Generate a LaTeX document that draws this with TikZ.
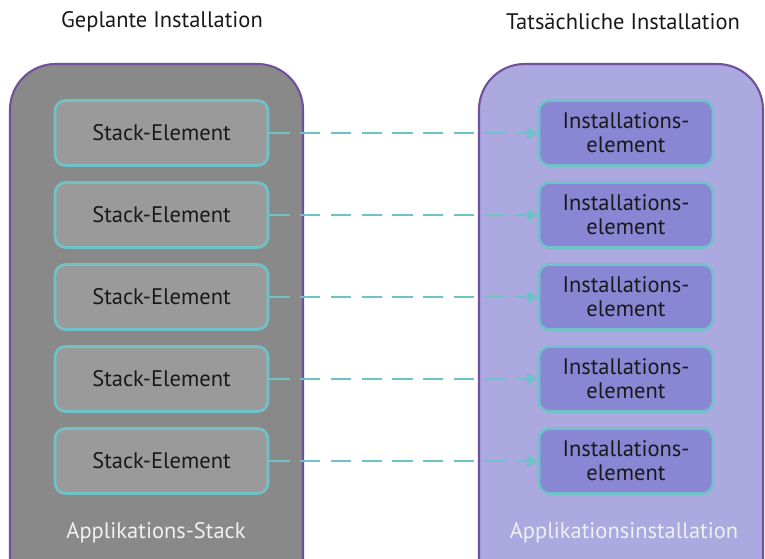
\documentclass[tikz,border=0pt]{standalone}
\usepackage{fontspec}
\setmainfont{PT Sans}
\usetikzlibrary{arrows.meta}
\definecolor{stackgray}{HTML}{898989}
\definecolor{elemgray}{HTML}{9A9A9A}
\definecolor{lavender}{HTML}{ABA9E0}
\definecolor{elemblue}{HTML}{8987D4}
\definecolor{tealline}{HTML}{6FC2C7}
\definecolor{violet}{HTML}{71519B}
\begin{document}
\begin{tikzpicture}[x=1cm,y=1cm,line cap=round,line join=round,
  font=\fontsize{12.8}{13.6}\selectfont,
  container/.style={draw=violet,line width=1.2pt,rounded corners=26pt},
  stackelem/.style={draw=tealline,fill=elemgray,line width=1.5pt,rounded corners=6pt,
    minimum width=4.26cm,minimum height=1.3cm,inner sep=0pt,text=black!90},
  instelem/.style={stackelem,fill=elemblue,minimum width=3.48cm,align=center},
  link/.style={tealline,line width=1.7pt,line cap=butt,dash pattern=on 11.5pt off 6pt,
    -{Triangle[length=6pt,width=7pt]}},
  title/.style={inner sep=1pt,text=black!90},
  caption/.style={inner sep=1pt,text=white!94!black}]
  \path[use as bounding box] (0,0) rectangle (15.3,11.16);
  \begin{scope}
    \clip (0,0) rectangle (15.3,11.16);
    \draw[container,fill=stackgray] (0.2,-1.2) rectangle (6.06,9.88);
    \draw[container,fill=lavender] (9.58,-1.2) rectangle (15.26,9.88);
  \end{scope}
  \node[title] (plan) at (3.24,10.72) {Geplante Installation};
  \node[title] (real) at (12.46,10.72) {Tatsächliche Installation};
  % elements and their links, top to bottom
  \foreach \i in {1,...,5}{
    \node[stackelem] (stack\i) at (3.23,8.5-1.64*\i+1.64) {Stack-Element};
    \node[instelem] (inst\i) at (12.52,8.5-1.64*\i+1.64) {Installations-\\element};
    \draw[link] (stack\i.east) -- (inst\i.west);
  }
  \node[caption] (stackcap) at (3.12,0.5) {Applikations-Stack};
  \node[caption] (instcap) at (12.48,0.5) {Applikationsinstallation};
\end{tikzpicture}
\end{document}
